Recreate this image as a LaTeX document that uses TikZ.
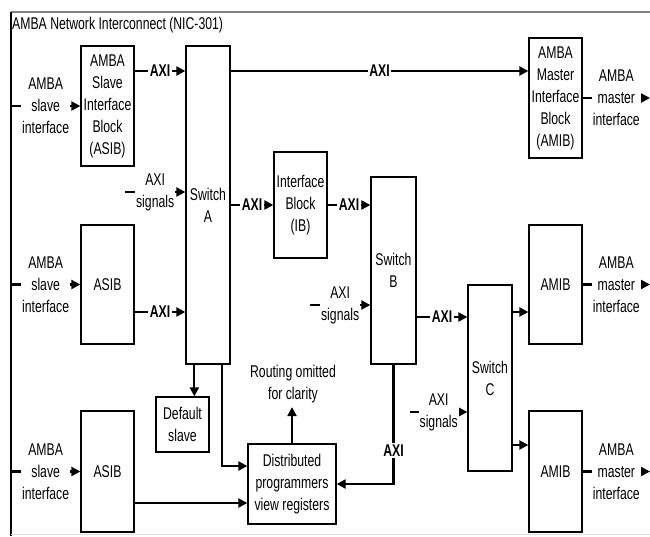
\documentclass[tikz,border=0pt]{standalone}
\usepackage{fontspec}
\usetikzlibrary{arrows.meta}
\newfontfamily\narrowsf[FakeStretch=0.72]{Liberation Sans}
\newcommand{\nicfont}{\narrowsf\fontsize{17}{22}\selectfont}

\tikzset{
  blk/.style={draw, line width=1.3pt, align=center, inner sep=0pt, font=\nicfont},
  conn/.style={line width=2.2pt, -{Triangle[length=9pt,width=9pt]}},
  lbl/.style={fill=white, inner xsep=1pt, inner ysep=1.5pt, align=center, font=\nicfont},
  axi/.style={fill=white, inner sep=1.5pt, font=\nicfont\bfseries},
}

\begin{document}
\begin{tikzpicture}[x=1pt,y=-1pt]
  \useasboundingbox (0,0) rectangle (650,536);
  \coordinate (edgeL) at (11,0); \coordinate (edgeR) at (650,0);
  % frame
  \draw[gray, line width=2pt] (11,12) -- (650,12);
  \draw[line width=1.3pt] (11,12) -- (11,536);
  \draw[black!12, line width=1pt] (11,534) -- (650,534);
  \node[anchor=west, inner sep=1pt, font=\nicfont] (title) at (11,25) {AMBA Network Interconnect (NIC-301)};
  % blocks
  \node[blk, minimum width=53pt, minimum height=120pt] (asibA) at (107.5,106) {AMBA\\Slave\\Interface\\Block\\(ASIB)};
  \node[blk, minimum width=53pt, minimum height=119pt] (asibB) at (107.5,284.5) {ASIB};
  \node[blk, minimum width=53pt, minimum height=121pt] (asibC) at (107.5,471.5) {ASIB};
  \node[blk, minimum width=44pt, minimum height=318pt] (swA) at (208,205) {Switch\\A};
  \node[blk, minimum width=53pt, minimum height=106pt] (ib) at (300.5,205) {Interface\\Block\\(IB)};
  \node[blk, minimum width=45pt, minimum height=187pt] (swB) at (393.5,270.5) {Switch\\B};
  \node[blk, minimum width=44pt, minimum height=186pt] (swC) at (490,378) {Switch\\C};
  \node[blk, minimum width=53pt, minimum height=120pt] (amibA) at (555.5,98) {AMBA\\Master\\Interface\\Block\\(AMIB)};
  \node[blk, minimum width=53pt, minimum height=119pt] (amibB) at (555.5,284.5) {AMIB};
  \node[blk, minimum width=53pt, minimum height=121pt] (amibC) at (555.5,471.5) {AMIB};
  \node[blk, minimum width=53pt, minimum height=55pt] (dflt) at (182.5,424.5) {Default\\slave};
  \node[blk, minimum width=88pt, minimum height=80pt] (dpv) at (292,484) {Distributed\\programmers\\view registers};
  \node[align=center, inner sep=4pt, font=\nicfont] (routing) at (293,384) {Routing omitted\\for clarity};
  % slave and master interfaces
  \draw[conn] (asibA.west -| edgeL) -- node[lbl]{AMBA\\slave\\interface} (asibA.west);
  \draw[conn] (asibB.west -| edgeL) -- node[lbl]{AMBA\\slave\\interface} (asibB.west);
  \draw[conn] (asibC.west -| edgeL) -- node[lbl]{AMBA\\slave\\interface} (asibC.west);
  \draw[conn] (amibA.east) -- node[lbl]{AMBA\\master\\interface} (amibA.east -| edgeR);
  \draw[conn] (amibB.east) -- node[lbl]{AMBA\\master\\interface} (amibB.east -| edgeR);
  \draw[conn] (amibC.east) -- node[lbl]{AMBA\\master\\interface} (amibC.east -| edgeR);
  % AXI links
  \draw[conn] ([yshift=35pt]asibA.east) -- node[axi]{AXI} ([yshift=35pt]asibA.east -| swA.west);
  \draw[conn] ([yshift=27pt]amibA.west -| swA.east) -- node[axi]{AXI} ([yshift=27pt]amibA.west);
  \draw[conn] ([yshift=-27.5pt]asibB.east) -- node[axi]{AXI} ([yshift=-27.5pt]asibB.east -| swA.west);
  \draw[conn] (ib.west -| swA.east) -- node[axi]{AXI} (ib.west);
  \draw[conn] (ib.east) -- node[axi]{AXI} (ib.east -| swB.west);
  \draw[conn] ([yshift=61pt]swC.west -| swB.east) -- node[axi]{AXI} ([yshift=61pt]swC.west);
  \draw[conn] ([yshift=-27.5pt]amibB.west -| swC.east) -- ([yshift=-27.5pt]amibB.west);
  \draw[conn] ([yshift=26.5pt]amibC.west -| swC.east) -- ([yshift=26.5pt]amibC.west);
  % AXI signals
  \coordinate (sigA) at (125,192); \coordinate (sigB) at (310,305); \coordinate (sigC) at (410,412);
  \draw[conn] (sigA) -- node[lbl]{AXI\\signals} (sigA -| swA.west);
  \draw[conn] (sigB) -- node[lbl]{AXI\\signals} (sigB -| swB.west);
  \draw[conn] (sigC) -- node[lbl]{AXI\\signals} (sigC -| swC.west);
  % default slave and registers
  \draw[conn] ([xshift=9pt]swA.south west) -- ([xshift=9pt]swA.south west |- dflt.north);
  \draw[conn] ([xshift=-9pt]swA.south east) |- ([yshift=18pt]dpv.west);
  \draw[conn] ([yshift=-19pt]dpv.west -| asibC.east) -- ([yshift=-19pt]dpv.west);
  \draw[conn] (swB.south) |- node[axi, pos=0.36]{AXI} (dpv.east);
  \draw[conn] (dpv.north) -- (dpv.north |- routing.south);
\end{tikzpicture}
\end{document}
